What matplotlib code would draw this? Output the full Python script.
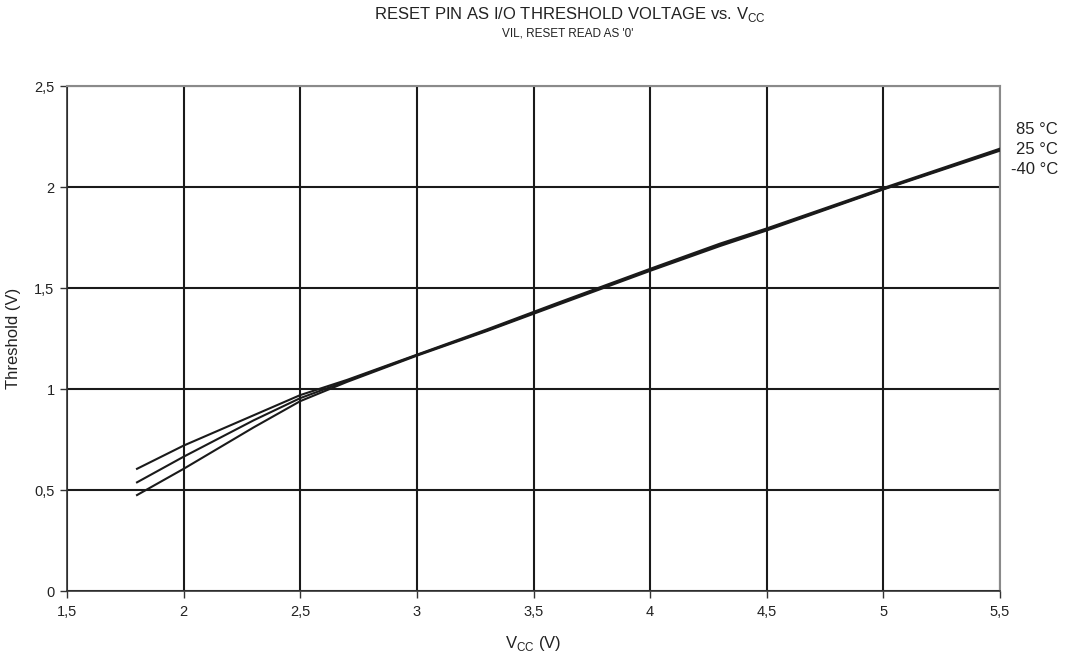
import matplotlib.pyplot as plt

plt.rcParams['font.family'] = ['Liberation Sans', 'DejaVu Sans']

# 数据：Vcc (V) 与阈值电压 (V)
vcc = [1.8, 2.0, 2.3, 2.5, 2.7, 3.0, 3.3, 3.6, 4.0, 4.3, 4.5, 5.0, 5.5]
th_85 = [0.605, 0.72, 0.87, 0.97, 1.045, 1.17, 1.295, 1.425, 1.595, 1.72, 1.795, 1.995, 2.19]
th_25 = [0.538, 0.665, 0.845, 0.955, 1.04, 1.168, 1.29, 1.42, 1.59, 1.713, 1.79, 1.99, 2.185]
th_m40 = [0.475, 0.605, 0.81, 0.94, 1.035, 1.165, 1.287, 1.415, 1.585, 1.708, 1.785, 1.988, 2.18]
series_labels = ['85 °C', '25 °C', '-40 °C']

x_ticks = [1.5, 2, 2.5, 3, 3.5, 4, 4.5, 5, 5.5]
x_ticklabels = ['1,5', '2', '2,5', '3', '3,5', '4', '4,5', '5', '5,5']
y_ticks = [0, 0.5, 1, 1.5, 2, 2.5]
y_ticklabels = ['0', '0,5', '1', '1,5', '2', '2,5']


def main():
    fig = plt.figure(figsize=(10.76, 6.54), dpi=100)
    ax = fig.add_axes([0.0623, 0.0963, 0.8671, 0.7722])

    for ys in (th_85, th_25, th_m40):
        ax.plot(vcc, ys, color='#1a1a1a', linewidth=1.5, zorder=3)

    ax.set_xlim(1.5, 5.5)
    ax.set_ylim(0, 2.5)
    ax.set_xticks(x_ticks)
    ax.set_xticklabels(x_ticklabels, fontsize=10.5, color='#222222')
    ax.set_yticks(y_ticks)
    ax.set_yticklabels(y_ticklabels, fontsize=10.5, color='#222222')
    ax.tick_params(direction='out', length=5, width=1, color='#333333')
    ax.tick_params(axis='x', pad=5)
    ax.tick_params(axis='y', pad=4)

    ax.grid(True, color='#1a1a1a', linewidth=1.5)
    ax.set_axisbelow(True)
    for side in ('left', 'bottom'):
        ax.spines[side].set_color('#333333')
        ax.spines[side].set_linewidth(1.2)
    for side in ('top', 'right'):
        ax.spines[side].set_color('#8a8a8a')
        ax.spines[side].set_linewidth(1.5)

    ax.set_ylabel('Threshold (V)', fontsize=12, color='#222222')
    ax.yaxis.set_label_coords(-0.049, 0.5)
    ax.set_xlabel('V$_{\\mathregular{CC}}$ (V)', fontsize=12, color='#222222')
    ax.xaxis.set_label_coords(0.5, -0.085)

    # 标题
    fig.text(570 / 1076, 1 - 14 / 654,
             'RESET PIN AS I/O THRESHOLD VOLTAGE vs. V$_{\\mathregular{CC}}$',
             fontsize=12, ha='center', va='center', color='#222222')
    fig.text(568 / 1076, 1 - 33 / 654, "VIL, RESET READ AS '0'",
             fontsize=8.5, ha='center', va='center', color='#222222')

    # 右侧温度标签
    for lab, ypx in zip(series_labels, (130, 150, 169)):
        fig.text(1058 / 1076, 1 - ypx / 654, lab, fontsize=12,
                 ha='right', va='center', color='#222222')

    fig.savefig('out.png', dpi=100)


if __name__ == "__main__":
    main()
